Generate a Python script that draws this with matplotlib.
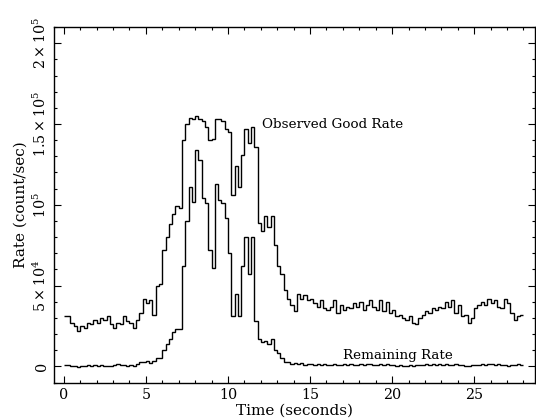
import numpy as np
from matplotlib import pyplot as plt
from matplotlib.ticker import MultipleLocator, FixedLocator

plt.rcParams['font.family'] = ['DejaVu Serif']
plt.rcParams['mathtext.fontset'] = 'dejavuserif'

# light curve, 0.2 s bins starting at t = 0 (values in 10^3 count/sec)
t_start = 0.0
bin_width = 0.2

observed = [
    31, 31, 27, 25, 22, 25, 24, 27, 26, 29,
    27, 30, 29, 31, 26, 24, 27, 26, 31, 28,
    27, 24, 29, 33, 42, 39, 41, 32, 50, 51,
    72, 80, 88, 94, 99, 98, 140, 150, 154, 153,
    155, 153, 152, 148, 140, 141, 153, 153, 152, 147,
    145, 106, 124, 111, 131, 147, 138, 148, 136, 89,
    84, 93, 86, 93, 75, 62, 57, 47, 42, 38,
    34, 45, 42, 44, 41, 42, 39, 37, 41, 36,
    35, 37, 41, 33, 38, 35, 37, 36, 39, 37,
    40, 35, 38, 41, 37, 35, 41, 34, 40, 33,
    35, 31, 32, 30, 29, 31, 27, 26, 30, 32,
    34, 33, 36, 35, 37, 36, 40, 37, 41, 33,
    38, 31, 32, 27, 30, 36, 38, 40, 38, 42,
    39, 41, 37, 36, 42, 39, 33, 29, 31, 32,
]

remaining = [
    1.0, 0.8, 0.5, 0.0, -0.3, 0.5, 0.2, 0.6, 0.2, 0.8,
    0.4, 1.0, 0.5, 0.0, 0.3, 0.8, 1.2, 0.6, 1.0, 0.3,
    0.8, 0.5, 1.2, 3.0, 2.5, 3.5, 2.0, 3.5, 5.0, 5.0,
    10, 14, 17, 21, 23, 23, 62, 90, 111, 102,
    134, 128, 104, 101, 72, 61, 113, 103, 101, 92,
    70, 31, 45, 31, 62, 80, 57, 80, 28, 17,
    15, 16, 14, 17, 10, 8, 5, 3, 2.5, 1.5,
    1.8, 1.2, 2.0, 1.0, 1.5, 1.2, 0.8, 1.6, 1.0, 1.3,
    1.1, 0.7, 1.4, 1.0, 0.6, 1.2, 0.9, 1.5, 1.1, 0.8,
    1.3, 1.0, 1.6, 1.2, 0.7, 1.0, 1.4, 0.9, 1.2, 0.6,
    0.8, 0.4, 0.9, 0.5, 0.2, 0.6, 0.3, 0.8, 1.0, 0.7,
    1.2, 0.9, 1.4, 1.0, 1.3, 0.8, 1.5, 1.1, 0.9, 1.3,
    0.7, 1.0, 0.4, 0.1, 0.6, 1.1, 0.8, 1.4, 1.0, 1.6,
    1.2, 0.9, 1.3, 0.7, 1.1, 0.5, 0.8, 1.0, 1.2, 1.0,
]

ytick_vals = [0, 5e4, 1e5, 1.5e5, 2e5]
ytick_labels = ['0', r'$5\times10^4$', r'$10^5$', r'$1.5\times10^5$', r'$2\times10^5$']

obs = np.array(observed) * 1e3
rem = np.array(remaining) * 1e3
edges = t_start + bin_width * np.arange(len(obs) + 1)

fig = plt.figure(figsize=(5.36, 4.2), dpi=100)
ax = fig.add_axes([0.1007, 0.088, 0.8973, 0.8476])

ax.stairs(obs, edges, baseline=None, color='black', lw=1.0)
ax.stairs(rem, edges, baseline=None, color='black', lw=1.0)

ax.text(12.1, 1.5e5, 'Observed Good Rate', fontsize=9.7, va='center', ha='left')
ax.text(17.0, 7e3, 'Remaining Rate', fontsize=9.7, va='center', ha='left')

ax.set_xlim(-0.6, 28.7)
ax.set_ylim(-1.03e4, 2.1e5)

ax.xaxis.set_major_locator(MultipleLocator(5))
ax.xaxis.set_minor_locator(MultipleLocator(1))
ax.yaxis.set_major_locator(FixedLocator(ytick_vals))
ax.yaxis.set_minor_locator(MultipleLocator(1e4))
ax.set_yticklabels(ytick_labels, rotation=90, va='center')

ax.tick_params(which='both', direction='in', top=True, right=True, labelsize=10.3)
ax.tick_params(which='major', length=5, width=0.8)
ax.tick_params(which='minor', length=2.5, width=0.8)
for s in ax.spines.values():
    s.set_linewidth(1.0)

ax.set_xlabel('Time (seconds)', fontsize=11, labelpad=1)
ax.set_ylabel('Rate (count/sec)', fontsize=11, labelpad=3)

fig.savefig('out.png', dpi=100)
